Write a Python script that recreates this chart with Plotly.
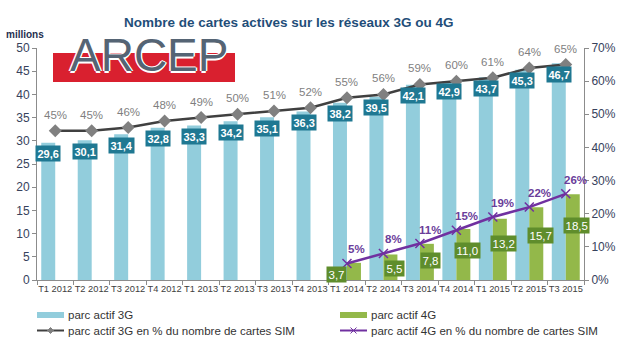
import plotly.graph_objects as go

# ---------------- data ----------------
quarters = ["T1 2012", "T2 2012", "T3 2012", "T4 2012",
            "T1 2013", "T2 2013", "T3 2013", "T4 2013",
            "T1 2014", "T2 2014", "T3 2014", "T4 2014",
            "T1 2015", "T2 2015", "T3 2015"]
parc_3g = [29.6, 30.1, 31.4, 32.8, 33.3, 34.2, 35.1, 36.3,
           38.2, 39.5, 42.1, 42.9, 43.7, 45.3, 46.7]
parc_4g = [None, None, None, None, None, None, None, None,
           3.7, 5.5, 7.8, 11.0, 13.2, 15.7, 18.5]
pct_3g = [45, 45, 46, 48, 49, 50, 51, 52, 55, 56, 59, 60, 61, 64, 65]
pct_4g = [None, None, None, None, None, None, None, None,
          5, 8, 11, 15, 19, 22, 26]

# ---------------- layout geometry ----------------
W, H = 620, 350
L, R, T, B = 37, 36, 48, 70
PW, PH = W - L - R, H - T - B

def px(x):
    return (x - L) / PW

def py(y):
    return (H - B - y) / PH

C3G = "#92cddc"
C4G = "#93b84a"
C3G_BOX = "#1f7892"
C4G_BOX = "#5f8d2c"
C3G_LINE = "#404040"
C3G_MARK = "#808080"
C4G_LINE = "#7030a0"
AXIS_TXT = "#37425c"
FONT = "Liberation Sans, Arial"

def fmt(v):
    return f"{v:.1f}".replace(".", ",")

fig = go.Figure()
fig.add_trace(go.Bar(x=quarters, y=parc_3g, name="parc actif 3G",
                     marker=dict(color=C3G, line=dict(width=0)), yaxis="y"))
fig.add_trace(go.Bar(x=quarters, y=parc_4g, name="parc actif 4G",
                     marker=dict(color=C4G, line=dict(width=0)), yaxis="y"))
fig.add_trace(go.Scatter(x=quarters, y=pct_3g, yaxis="y2", mode="lines+markers",
                         name="parc actif 3G en % du nombre de cartes SIM",
                         line=dict(color=C3G_LINE, width=2.5),
                         marker=dict(symbol="diamond", size=10, color=C3G_MARK,
                                     line=dict(width=0))))
fig.add_trace(go.Scatter(x=quarters, y=pct_4g, yaxis="y2", mode="lines+markers",
                         name="parc actif 4G en % du nombre de cartes SIM",
                         line=dict(color=C4G_LINE, width=2.5),
                         marker=dict(symbol="x-thin", size=9, color=C4G_LINE,
                                     line=dict(width=1.5, color=C4G_LINE))))

ann = []
# 3G value boxes
for q, v in zip(quarters, parc_3g):
    ann.append(dict(x=q, y=v, xref="x", yref="y", xshift=-7, yshift=-11,
                    text=f"<b>{fmt(v)}</b>", showarrow=False,
                    font=dict(family=FONT, size=11, color="white"),
                    bgcolor=C3G_BOX, borderpad=1.5))
# 4G value boxes
first = True
for q, v in zip(quarters, parc_4g):
    if v is None:
        continue
    ann.append(dict(x=q, y=0.7 * v - 1.3, xref="x", yref="y",
                    xshift=-10 if first else 11,
                    text=fmt(v), showarrow=False,
                    font=dict(family=FONT, size=11.5, color="white"),
                    bgcolor=C4G_BOX, borderpad=1.5))
    first = False
# 3G percentage labels
for q, p in zip(quarters, pct_3g):
    ann.append(dict(x=q, y=p, xref="x", yref="y2", yshift=16,
                    text=f"{p}%", showarrow=False,
                    font=dict(family=FONT, size=11.5, color="#7f7f7f")))
# 4G percentage labels
for q, p in zip(quarters, pct_4g):
    if p is None:
        continue
    ann.append(dict(x=q, y=p, xref="x", yref="y2", yshift=14, xshift=10,
                    text=f"<b>{p}%</b>", showarrow=False,
                    font=dict(family=FONT, size=11.5, color="#6a3d9a")))

# title & unit
ann.append(dict(x=px(288), y=py(22), xref="paper", yref="paper", showarrow=False,
                text="<b>Nombre de cartes actives sur les réseaux 3G ou 4G</b>",
                font=dict(family=FONT, size=13.5, color="#1f4e79"),
                xanchor="center", yanchor="middle"))
ann.append(dict(x=px(4), y=py(34), xref="paper", yref="paper", showarrow=False,
                text="<b>millions</b>", xanchor="left", yanchor="middle",
                font=dict(family=FONT, size=10, color="#1f2f4f")))

# ARCEP logo
ann.append(dict(x=px(149), y=py(55), xref="paper", yref="paper", showarrow=False,
                text="ARCEP", xanchor="center", yanchor="middle",
                font=dict(family=FONT, size=46, color="#556474",
                          shadow="1.5px 0 0 #fff, -1.5px 0 0 #fff, 0 1.5px 0 #fff, 0 -1.5px 0 #fff")))

shapes = [dict(type="rect", xref="paper", yref="paper", layer="below",
               x0=px(53), x1=px(235), y0=py(82), y1=py(53),
               fillcolor="#d9202f", line=dict(width=0))]

# manual legend
LEG_FONT = dict(family=FONT, size=11.5, color="#333333")
legend_rows = [
    (37, 315, "rect", C3G, "parc actif 3G"),
    (340, 315, "rect", C4G, "parc actif 4G"),
    (37, 330.5, "line3", C3G_LINE, "parc actif 3G en % du nombre de cartes SIM"),
    (340, 330.5, "line4", C4G_LINE, "parc actif 4G en % du nombre de cartes SIM"),
]
for x0, yc, kind, col, label in legend_rows:
    if kind == "rect":
        shapes.append(dict(type="rect", xref="paper", yref="paper",
                           x0=px(x0), x1=px(x0 + 27), y0=py(yc + 3), y1=py(yc - 3),
                           fillcolor=col, line=dict(width=0)))
    else:
        shapes.append(dict(type="line", xref="paper", yref="paper",
                           x0=px(x0), x1=px(x0 + 27), y0=py(yc), y1=py(yc),
                           line=dict(color=col, width=2)))
        cx = x0 + 13.5
        if kind == "line3":
            path = (f"M {px(cx-3)},{py(yc)} L {px(cx)},{py(yc-3)} "
                    f"L {px(cx+3)},{py(yc)} L {px(cx)},{py(yc+3)} Z")
            shapes.append(dict(type="path", xref="paper", yref="paper", path=path,
                               fillcolor=C3G_MARK, line=dict(color=C3G_MARK, width=1)))
        else:
            path = (f"M {px(cx-3)},{py(yc-3)} L {px(cx+3)},{py(yc+3)} "
                    f"M {px(cx-3)},{py(yc+3)} L {px(cx+3)},{py(yc-3)}")
            shapes.append(dict(type="path", xref="paper", yref="paper", path=path,
                               line=dict(color=col, width=1)))
    ann.append(dict(x=px(x0 + 29), y=py(yc), xref="paper", yref="paper",
                    showarrow=False, text=label, xanchor="left", yanchor="middle",
                    font=LEG_FONT))

axis_common = dict(ticks="outside", ticklen=4, tickcolor="#8c8c8c", showline=True,
                   linecolor="#8c8c8c", linewidth=1, showgrid=False, automargin=False,
                   fixedrange=True)

fig.update_layout(
    width=W, height=H,
    margin=dict(l=L, r=R, t=T, b=B, pad=0, autoexpand=False),
    paper_bgcolor="white", plot_bgcolor="white",
    barmode="group", bargap=0.233, bargroupgap=0,
    showlegend=False,
    font=dict(family=FONT, color=AXIS_TXT),
    xaxis=dict(type="category", tickson="boundaries", range=[-0.5, len(quarters) - 0.5],
               autorange=False,
               tickfont=dict(size=9.3, color="#404040"), tickangle=0, **axis_common),
    yaxis=dict(range=[0, 50], dtick=5, zeroline=False,
               tickfont=dict(size=12, color=AXIS_TXT), **axis_common),
    yaxis2=dict(range=[0, 70], dtick=10, ticksuffix="%", overlaying="y", side="right",
                zeroline=False, tickfont=dict(size=12, color=AXIS_TXT), **axis_common),
    annotations=ann,
    shapes=shapes,
)

fig.write_html("out.html")
